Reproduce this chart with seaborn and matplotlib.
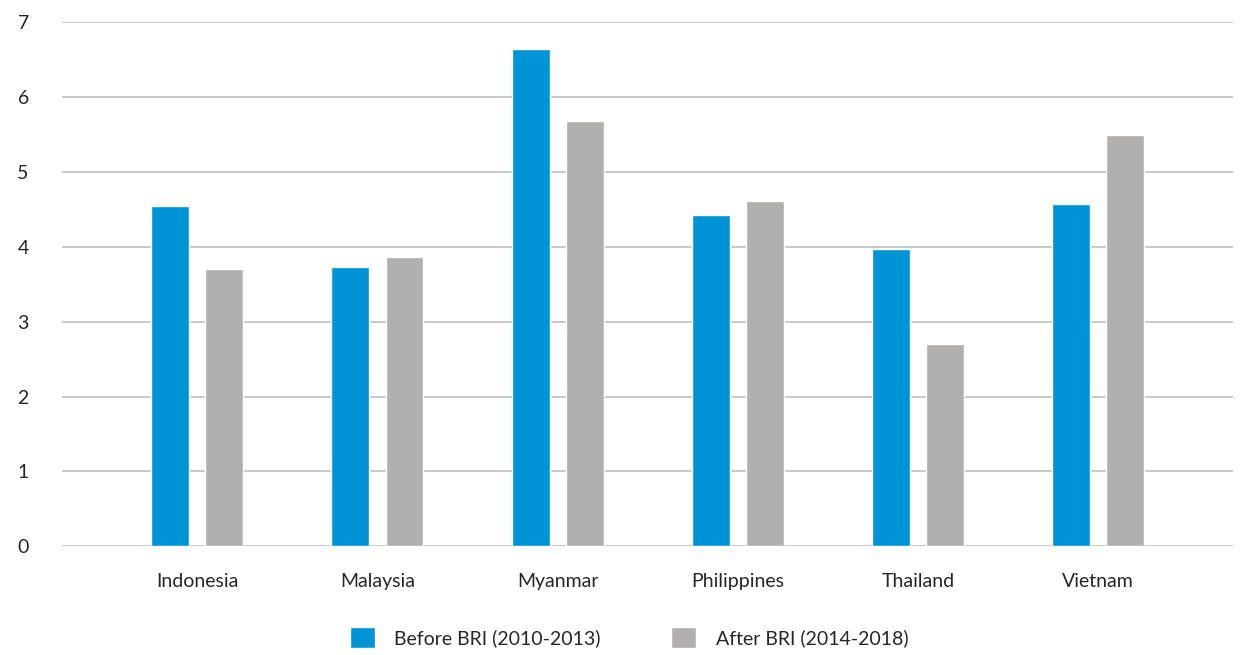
import matplotlib
matplotlib.use("Agg")
import matplotlib.pyplot as plt
import seaborn as sns
import pandas as pd

countries = ['Indonesia', 'Malaysia', 'Myanmar', 'Philippines', 'Thailand', 'Vietnam']
before_bri = [4.54, 3.73, 6.64, 4.42, 3.97, 4.57]
after_bri = [3.71, 3.86, 5.68, 4.61, 2.70, 5.49]
series_names = ['Before BRI (2010-2013)', 'After BRI (2014-2018)']

df = pd.DataFrame({
    'country': countries * 2,
    'value': before_bri + after_bri,
    'period': [series_names[0]] * len(countries) + [series_names[1]] * len(countries),
})

sns.set_style('white')
plt.rcParams['font.family'] = ['Lato', 'DejaVu Sans']

fig = plt.figure(figsize=(12.42, 6.55), dpi=100)
ax = fig.add_axes([0.05, 0.166, 0.943, 0.8])

sns.barplot(data=df, x='country', y='value', hue='period',
            palette=['#0094d6', '#b1b0af'], width=0.6, gap=0.3,
            saturation=1, ax=ax)

ax.set_ylim(0, 7)
ax.set_xlim(-0.75, 5.75)
ax.set_yticks(range(0, 8))
ax.yaxis.grid(True, color='#c0c0c0', linewidth=1.2)
ax.set_axisbelow(True)
for s in ax.spines.values():
    s.set_visible(False)
ax.tick_params(axis='y', length=0, pad=24, labelsize=14)
ax.tick_params(axis='x', length=0, pad=19, labelsize=14)
ax.set_xlabel('')
ax.set_ylabel('')

# legend under the plot, a bit left of centre like the original
ax.legend(loc='upper center', bbox_to_anchor=(0.484, -0.12), ncol=2, frameon=False,
          fontsize=14, handlelength=1.3, handleheight=1.3, columnspacing=3.6,
          handletextpad=1.0)

fig.savefig('out.png', dpi=100)
